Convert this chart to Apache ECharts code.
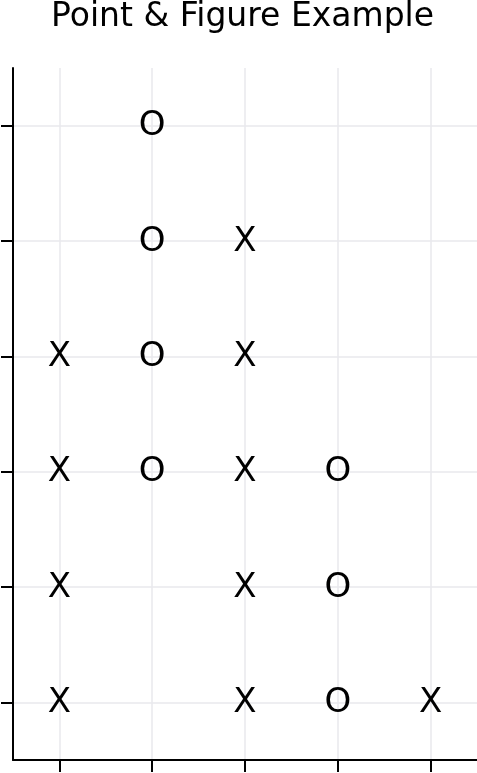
<!DOCTYPE html>
<html>
<head>
<meta charset="utf-8">
<script src="https://cdn.jsdelivr.net/npm/echarts@6/dist/echarts.min.js"></script>
<style>
  html, body { margin: 0; padding: 0; background: #fff; }
  #chart { width: 477px; height: 773px; }
</style>
</head>
<body>
<div id="chart"></div>
<script>
// Columns (x categories) and box rows (y categories)
const columns = ['0', '1', '2', '3', '4'];
const rows = ['0', '1', '2', '3', '4', '5'];

// X boxes: column index, row index
const xCols = [0, 0, 0, 0, 2, 2, 2, 2, 2, 4];
const xRows = [0, 1, 2, 3, 0, 1, 2, 3, 4, 0];

// O boxes: column index, row index
const oCols = [1, 1, 1, 1, 3, 3, 3];
const oRows = [2, 3, 4, 5, 0, 1, 2];

const FONT = 'DejaVu Sans';

function boxes(cols, rs, mark) {
  return cols.map((c, i) => ({ value: [c, rs[i]], mark: mark }));
}

const chart = echarts.init(document.getElementById('chart'), null, { renderer: 'canvas' });

const labelStyle = {
  show: true,
  position: 'inside',
  offset: [0, 1],
  formatter: p => p.data.mark,
  fontFamily: FONT,
  fontSize: 34,
  color: '#000',
  opacity: 1
};

chart.setOption({
  animation: false,
  backgroundColor: '#fff',
  title: {
    text: 'Point & Figure Example',
    left: 51,
    top: 1,
    padding: 0,
    textStyle: { fontFamily: FONT, fontSize: 33, fontWeight: 'normal', color: '#000' }
  },
  grid: { left: 13, right: 0, top: 68, bottom: 13, containLabel: false },
  xAxis: {
    type: 'category',
    data: columns,
    boundaryGap: true,
    axisLine: { show: true, lineStyle: { color: '#000', width: 2 } },
    axisTick: { show: true, alignWithLabel: true, length: 12, lineStyle: { color: '#000', width: 2 } },
    axisLabel: { show: false },
    splitLine: { show: true, alignWithLabel: true, lineStyle: { color: '#e8e8ec', width: 1.5 } }
  },
  yAxis: {
    type: 'category',
    data: rows,
    boundaryGap: true,
    axisLine: { show: true, lineStyle: { color: '#000', width: 2 } },
    axisTick: { show: true, alignWithLabel: true, length: 12, lineStyle: { color: '#000', width: 2 } },
    axisLabel: { show: false },
    splitLine: { show: true, alignWithLabel: true, lineStyle: { color: '#e8e8ec', width: 1.5 } }
  },
  series: [
    {
      name: 'X',
      type: 'scatter',
      symbolSize: 0,
      itemStyle: { opacity: 1 },
      data: boxes(xCols, xRows, 'X'),
      label: labelStyle,
      emphasis: { disabled: true }
    },
    {
      name: 'O',
      type: 'scatter',
      symbolSize: 0,
      itemStyle: { opacity: 1 },
      data: boxes(oCols, oRows, 'O'),
      label: labelStyle,
      emphasis: { disabled: true }
    }
  ]
});
</script>
</body>
</html>
